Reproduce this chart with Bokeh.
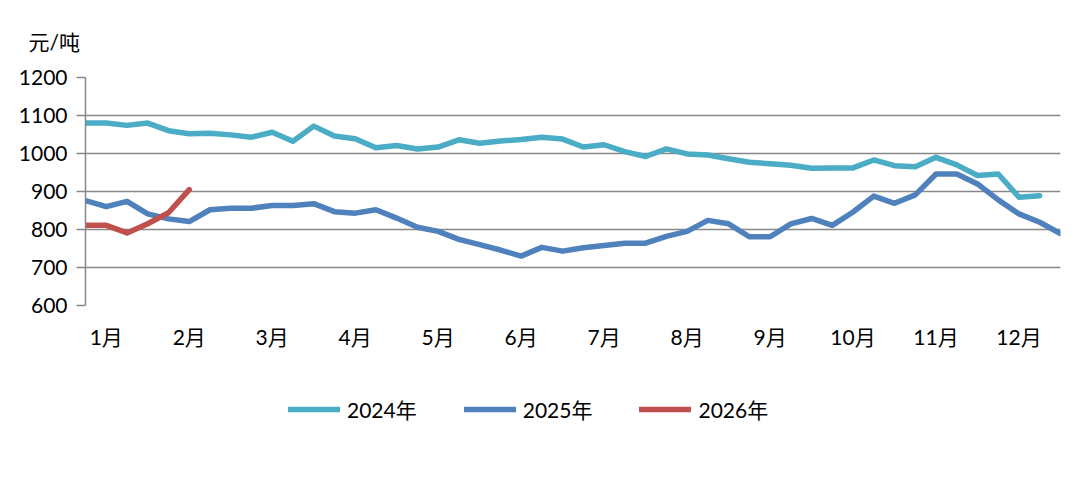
from bokeh.plotting import figure
from bokeh.models import Range1d, FixedTicker, Legend, LegendItem
from bokeh.layouts import column
from bokeh.embed import file_html
from bokeh.resources import INLINE

# ---------------- data ----------------
month_labels = ["1月", "2月", "3月", "4月", "5月", "6月", "7月", "8月", "9月", "10月", "11月", "12月"]
month_tick_positions = [1, 5, 9, 13, 17, 21, 25, 29, 33, 37, 41, 45]

series_names = ["2024年", "2025年", "2026年"]

values_2024 = [1080, 1080, 1074, 1080, 1060, 1052, 1053, 1049, 1043, 1056, 1032, 1072,
               1046, 1039, 1015, 1021, 1012, 1017, 1036, 1027, 1033, 1037, 1043, 1038,
               1017, 1023, 1005, 992, 1012, 999, 996, 986, 977, 973, 969, 961,
               962, 962, 983, 968, 965, 990, 970, 942, 946, 885, 889]

values_2025 = [876, 860, 874, 841, 828, 821, 852, 856, 856, 863, 863, 868,
               847, 843, 852, 830, 806, 795, 774, 760, 746, 730, 753, 743,
               752, 758, 764, 764, 782, 795, 824, 815, 781, 781, 815, 829,
               811, 846, 888, 869, 891, 946, 946, 920, 878, 841, 819, 789]

values_2026 = [811, 811, 791, 815, 844, 905]

colors = ["#4BACC6", "#4F81BD", "#C0504D"]

y_ticks = [600, 700, 800, 900, 1000, 1100, 1200]
unit_label = "元/吨"

# ---------------- main figure ----------------
FONT = "Lato, 'Noto Sans CJK SC', sans-serif"
W = 1080

p = figure(width=W, height=380, output_backend="svg", toolbar_location=None,
           x_range=Range1d(0, len(values_2025) - 1), y_range=Range1d(600, 1200),
           min_border_left=85, min_border_right=20, min_border_top=77, min_border_bottom=75,
           title=unit_label)
p.outline_line_color = None
p.background_fill_color = "white"
p.border_fill_color = "white"

p.title.align = "left"
p.title.offset = -57
p.title.vertical_align = "top"
p.title.standoff = 44
p.title.text_font = FONT
p.title.text_font_size = "21px"
p.title.text_font_style = "normal"
p.title.text_color = "#000000"

# y axis
p.yaxis.ticker = FixedTicker(ticks=y_ticks)
p.yaxis.axis_line_color = "#878787"
p.yaxis.axis_line_width = 1.5
p.yaxis.major_tick_line_color = "#878787"
p.yaxis.major_tick_line_width = 1.5
p.yaxis.major_tick_out = 9
p.yaxis.major_tick_in = 0
p.yaxis.minor_tick_line_color = None
p.yaxis.major_label_text_font = FONT
p.yaxis.major_label_text_font_size = "21px"
p.yaxis.major_label_text_color = "#000000"
p.yaxis.major_label_standoff = 9

# x axis
p.xaxis.ticker = FixedTicker(ticks=month_tick_positions)
p.xaxis.major_label_overrides = {pos: lab for pos, lab in zip(month_tick_positions, month_labels)}
p.xaxis.axis_line_color = None
p.xaxis.major_tick_line_color = None
p.xaxis.minor_tick_line_color = None
p.xaxis.major_label_text_font = FONT
p.xaxis.major_label_text_font_size = "21px"
p.xaxis.major_label_text_color = "#000000"
p.xaxis.major_label_standoff = 12

# grid
p.xgrid.grid_line_color = None
p.ygrid.ticker = FixedTicker(ticks=y_ticks)
p.ygrid.grid_line_color = "#878787"
p.ygrid.grid_line_width = 1.5

# lines
for vals, col in zip([values_2024, values_2025, values_2026], colors):
    p.line(list(range(len(vals))), vals, line_color=col, line_width=5.5,
           line_join="round", line_cap="round")

# ---------------- legend strip ----------------
lg = figure(width=W, height=100, output_backend="svg", toolbar_location=None,
            x_range=Range1d(0, 1), y_range=Range1d(0, 1),
            min_border_left=0, min_border_right=0, min_border_top=0, min_border_bottom=0)
lg.outline_line_color = None
lg.axis.visible = False
lg.grid.visible = False
# proxy renderers lying outside the visible range, used only for the legend glyphs
lg_renderers = [lg.line([5, 6], [5, 6], line_color=col, line_width=5.5, line_cap="round")
                for col in colors]

legend = Legend(items=[LegendItem(label=n, renderers=[r]) for n, r in zip(series_names, lg_renderers)],
                location=(203, 56), orientation="horizontal",
                glyph_width=52, glyph_height=20, label_standoff=7, spacing=47,
                padding=0, margin=0, border_line_color=None, background_fill_alpha=0,
                label_text_font=FONT, label_text_font_size="21px", label_text_color="#000000")
lg.add_layout(legend, "center")

open("out.html", "w").write(file_html(column(p, lg, spacing=0), INLINE))
